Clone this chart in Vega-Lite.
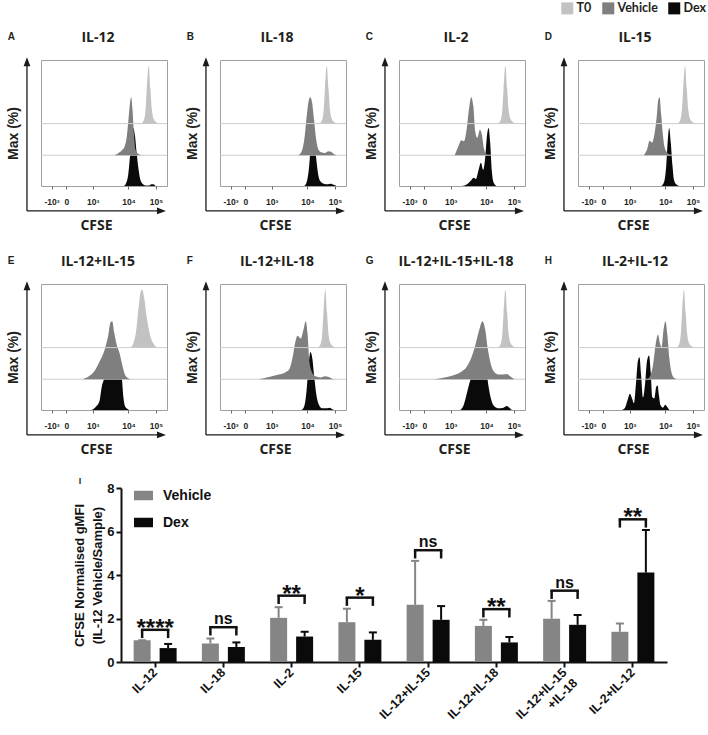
{
"$schema": "https://vega.github.io/schema/vega-lite/v6.json",
"padding": {"left": 5, "top": 2, "right": 2, "bottom": 2},
"datasets": {
"A": [{"s":"T0","c":814,"v":0},{"s":"T0","c":834,"v":5},{"s":"T0","c":848,"v":20},{"s":"T0","c":860,"v":60},{"s":"T0","c":875,"v":100},{"s":"T0","c":889,"v":60},{"s":"T0","c":902,"v":22},{"s":"T0","c":918,"v":7},{"s":"T0","c":940,"v":2},{"s":"T0","c":965,"v":0},
{"s":"Vehicle","c":598,"v":0},{"s":"Vehicle","c":631,"v":4},{"s":"Vehicle","c":659,"v":9},{"s":"Vehicle","c":681,"v":16},{"s":"Vehicle","c":697,"v":32},{"s":"Vehicle","c":711,"v":62},{"s":"Vehicle","c":722,"v":88},{"s":"Vehicle","c":733,"v":100},{"s":"Vehicle","c":744,"v":78},{"s":"Vehicle","c":756,"v":35},{"s":"Vehicle","c":769,"v":9},{"s":"Vehicle","c":792,"v":2},{"s":"Vehicle","c":814,"v":0},
{"s":"Dex","c":675,"v":0},{"s":"Dex","c":692,"v":5},{"s":"Dex","c":709,"v":20},{"s":"Dex","c":725,"v":55},{"s":"Dex","c":739,"v":90},{"s":"Dex","c":750,"v":100},{"s":"Dex","c":764,"v":86},{"s":"Dex","c":778,"v":56},{"s":"Dex","c":792,"v":30},{"s":"Dex","c":805,"v":13},{"s":"Dex","c":825,"v":4},{"s":"Dex","c":852,"v":1},{"s":"Dex","c":880,"v":1},{"s":"Dex","c":897,"v":3},{"s":"Dex","c":913,"v":3},{"s":"Dex","c":930,"v":0}],
"B": [{"s":"T0","c":807,"v":0},{"s":"T0","c":827,"v":5},{"s":"T0","c":841,"v":20},{"s":"T0","c":853,"v":60},{"s":"T0","c":868,"v":100},{"s":"T0","c":882,"v":60},{"s":"T0","c":895,"v":22},{"s":"T0","c":911,"v":7},{"s":"T0","c":933,"v":2},{"s":"T0","c":958,"v":0},
{"s":"Vehicle","c":639,"v":0},{"s":"Vehicle","c":666,"v":8},{"s":"Vehicle","c":687,"v":30},{"s":"Vehicle","c":706,"v":70},{"s":"Vehicle","c":722,"v":95},{"s":"Vehicle","c":733,"v":100},{"s":"Vehicle","c":749,"v":90},{"s":"Vehicle","c":765,"v":60},{"s":"Vehicle","c":781,"v":28},{"s":"Vehicle","c":800,"v":10},{"s":"Vehicle","c":822,"v":5},{"s":"Vehicle","c":854,"v":4},{"s":"Vehicle","c":881,"v":7},{"s":"Vehicle","c":903,"v":6},{"s":"Vehicle","c":924,"v":2},{"s":"Vehicle","c":946,"v":0},
{"s":"Dex","c":687,"v":0},{"s":"Dex","c":706,"v":8},{"s":"Dex","c":725,"v":35},{"s":"Dex","c":741,"v":80},{"s":"Dex","c":755,"v":100},{"s":"Dex","c":768,"v":85},{"s":"Dex","c":781,"v":50},{"s":"Dex","c":798,"v":20},{"s":"Dex","c":816,"v":8},{"s":"Dex","c":843,"v":4},{"s":"Dex","c":876,"v":3},{"s":"Dex","c":900,"v":4},{"s":"Dex","c":924,"v":2},{"s":"Dex","c":946,"v":0}],
"C": [{"s":"T0","c":804,"v":0},{"s":"T0","c":824,"v":5},{"s":"T0","c":838,"v":20},{"s":"T0","c":850,"v":60},{"s":"T0","c":865,"v":100},{"s":"T0","c":879,"v":60},{"s":"T0","c":892,"v":22},{"s":"T0","c":908,"v":7},{"s":"T0","c":930,"v":2},{"s":"T0","c":955,"v":0},
{"s":"Vehicle","c":453,"v":0},{"s":"Vehicle","c":480,"v":14},{"s":"Vehicle","c":507,"v":26},{"s":"Vehicle","c":528,"v":24},{"s":"Vehicle","c":550,"v":45},{"s":"Vehicle","c":569,"v":80},{"s":"Vehicle","c":587,"v":100},{"s":"Vehicle","c":604,"v":85},{"s":"Vehicle","c":620,"v":40},{"s":"Vehicle","c":636,"v":30},{"s":"Vehicle","c":658,"v":44},{"s":"Vehicle","c":674,"v":35},{"s":"Vehicle","c":690,"v":12},{"s":"Vehicle","c":706,"v":3},{"s":"Vehicle","c":728,"v":0},
{"s":"Dex","c":512,"v":0},{"s":"Dex","c":552,"v":3},{"s":"Dex","c":587,"v":10},{"s":"Dex","c":606,"v":14},{"s":"Dex","c":625,"v":12},{"s":"Dex","c":647,"v":28},{"s":"Dex","c":666,"v":40},{"s":"Dex","c":684,"v":28},{"s":"Dex","c":701,"v":50},{"s":"Dex","c":714,"v":85},{"s":"Dex","c":728,"v":100},{"s":"Dex","c":741,"v":75},{"s":"Dex","c":755,"v":25},{"s":"Dex","c":771,"v":5},{"s":"Dex","c":792,"v":0}],
"D": [{"s":"T0","c":809,"v":0},{"s":"T0","c":829,"v":5},{"s":"T0","c":843,"v":20},{"s":"T0","c":855,"v":60},{"s":"T0","c":870,"v":100},{"s":"T0","c":884,"v":60},{"s":"T0","c":897,"v":22},{"s":"T0","c":913,"v":7},{"s":"T0","c":935,"v":2},{"s":"T0","c":960,"v":0},
{"s":"Vehicle","c":534,"v":0},{"s":"Vehicle","c":561,"v":10},{"s":"Vehicle","c":582,"v":25},{"s":"Vehicle","c":601,"v":22},{"s":"Vehicle","c":620,"v":35},{"s":"Vehicle","c":639,"v":65},{"s":"Vehicle","c":652,"v":95},{"s":"Vehicle","c":663,"v":100},{"s":"Vehicle","c":676,"v":70},{"s":"Vehicle","c":690,"v":35},{"s":"Vehicle","c":706,"v":12},{"s":"Vehicle","c":728,"v":4},{"s":"Vehicle","c":754,"v":1},{"s":"Vehicle","c":776,"v":0},
{"s":"Dex","c":679,"v":0},{"s":"Dex","c":701,"v":8},{"s":"Dex","c":717,"v":35},{"s":"Dex","c":730,"v":80},{"s":"Dex","c":741,"v":100},{"s":"Dex","c":754,"v":75},{"s":"Dex","c":768,"v":35},{"s":"Dex","c":781,"v":10},{"s":"Dex","c":803,"v":2},{"s":"Dex","c":822,"v":0}],
"E": [{"s":"T0","c":725,"v":0},{"s":"T0","c":752,"v":8},{"s":"T0","c":774,"v":30},{"s":"T0","c":796,"v":75},{"s":"T0","c":809,"v":95},{"s":"T0","c":823,"v":100},{"s":"T0","c":839,"v":85},{"s":"T0","c":861,"v":50},{"s":"T0","c":888,"v":20},{"s":"T0","c":916,"v":6},{"s":"T0","c":943,"v":0},
{"s":"Vehicle","c":340,"v":0},{"s":"Vehicle","c":389,"v":5},{"s":"Vehicle","c":435,"v":14},{"s":"Vehicle","c":475,"v":30},{"s":"Vehicle","c":516,"v":50},{"s":"Vehicle","c":546,"v":75},{"s":"Vehicle","c":565,"v":98},{"s":"Vehicle","c":579,"v":100},{"s":"Vehicle","c":595,"v":80},{"s":"Vehicle","c":617,"v":58},{"s":"Vehicle","c":638,"v":45},{"s":"Vehicle","c":660,"v":25},{"s":"Vehicle","c":682,"v":8},{"s":"Vehicle","c":706,"v":2},{"s":"Vehicle","c":725,"v":0},
{"s":"Dex","c":410,"v":0},{"s":"Dex","c":448,"v":6},{"s":"Dex","c":475,"v":15},{"s":"Dex","c":494,"v":40},{"s":"Dex","c":516,"v":55},{"s":"Dex","c":535,"v":65},{"s":"Dex","c":557,"v":85},{"s":"Dex","c":573,"v":100},{"s":"Dex","c":590,"v":88},{"s":"Dex","c":606,"v":72},{"s":"Dex","c":625,"v":65},{"s":"Dex","c":641,"v":78},{"s":"Dex","c":657,"v":55},{"s":"Dex","c":671,"v":20},{"s":"Dex","c":687,"v":5},{"s":"Dex","c":709,"v":1},{"s":"Dex","c":725,"v":0}],
"F": [{"s":"T0","c":795,"v":0},{"s":"T0","c":815,"v":5},{"s":"T0","c":829,"v":20},{"s":"T0","c":841,"v":60},{"s":"T0","c":856,"v":100},{"s":"T0","c":870,"v":60},{"s":"T0","c":883,"v":22},{"s":"T0","c":899,"v":7},{"s":"T0","c":921,"v":2},{"s":"T0","c":946,"v":0},
{"s":"Vehicle","c":316,"v":0},{"s":"Vehicle","c":397,"v":4},{"s":"Vehicle","c":478,"v":8},{"s":"Vehicle","c":532,"v":12},{"s":"Vehicle","c":565,"v":18},{"s":"Vehicle","c":592,"v":40},{"s":"Vehicle","c":613,"v":65},{"s":"Vehicle","c":630,"v":75},{"s":"Vehicle","c":657,"v":70},{"s":"Vehicle","c":678,"v":85},{"s":"Vehicle","c":697,"v":100},{"s":"Vehicle","c":711,"v":80},{"s":"Vehicle","c":727,"v":30},{"s":"Vehicle","c":748,"v":12},{"s":"Vehicle","c":775,"v":5},{"s":"Vehicle","c":816,"v":3},{"s":"Vehicle","c":856,"v":5},{"s":"Vehicle","c":883,"v":4},{"s":"Vehicle","c":911,"v":1},{"s":"Vehicle","c":932,"v":0},
{"s":"Dex","c":662,"v":0},{"s":"Dex","c":684,"v":6},{"s":"Dex","c":702,"v":30},{"s":"Dex","c":719,"v":75},{"s":"Dex","c":735,"v":100},{"s":"Dex","c":751,"v":88},{"s":"Dex","c":767,"v":55},{"s":"Dex","c":784,"v":25},{"s":"Dex","c":802,"v":10},{"s":"Dex","c":829,"v":3},{"s":"Dex","c":870,"v":3},{"s":"Dex","c":892,"v":4},{"s":"Dex","c":916,"v":1},{"s":"Dex","c":938,"v":0}],
"G": [{"s":"T0","c":804,"v":0},{"s":"T0","c":824,"v":5},{"s":"T0","c":838,"v":20},{"s":"T0","c":850,"v":60},{"s":"T0","c":865,"v":100},{"s":"T0","c":879,"v":60},{"s":"T0","c":892,"v":22},{"s":"T0","c":908,"v":7},{"s":"T0","c":930,"v":2},{"s":"T0","c":955,"v":0},
{"s":"Vehicle","c":283,"v":0},{"s":"Vehicle","c":350,"v":2},{"s":"Vehicle","c":431,"v":6},{"s":"Vehicle","c":499,"v":12},{"s":"Vehicle","c":552,"v":22},{"s":"Vehicle","c":593,"v":40},{"s":"Vehicle","c":628,"v":65},{"s":"Vehicle","c":652,"v":85},{"s":"Vehicle","c":679,"v":100},{"s":"Vehicle","c":701,"v":85},{"s":"Vehicle","c":722,"v":52},{"s":"Vehicle","c":744,"v":28},{"s":"Vehicle","c":768,"v":14},{"s":"Vehicle","c":808,"v":8},{"s":"Vehicle","c":849,"v":8},{"s":"Vehicle","c":876,"v":9},{"s":"Vehicle","c":903,"v":5},{"s":"Vehicle","c":938,"v":0},
{"s":"Dex","c":499,"v":0},{"s":"Dex","c":525,"v":8},{"s":"Dex","c":547,"v":25},{"s":"Dex","c":571,"v":45},{"s":"Dex","c":593,"v":62},{"s":"Dex","c":612,"v":85},{"s":"Dex","c":630,"v":98},{"s":"Dex","c":652,"v":86},{"s":"Dex","c":671,"v":92},{"s":"Dex","c":690,"v":95},{"s":"Dex","c":709,"v":70},{"s":"Dex","c":728,"v":40},{"s":"Dex","c":749,"v":18},{"s":"Dex","c":776,"v":6},{"s":"Dex","c":808,"v":3},{"s":"Dex","c":849,"v":4},{"s":"Dex","c":876,"v":7},{"s":"Dex","c":897,"v":4},{"s":"Dex","c":916,"v":0}],
"H": [{"s":"T0","c":800,"v":0},{"s":"T0","c":820,"v":5},{"s":"T0","c":834,"v":20},{"s":"T0","c":846,"v":60},{"s":"T0","c":861,"v":100},{"s":"T0","c":875,"v":60},{"s":"T0","c":888,"v":22},{"s":"T0","c":904,"v":7},{"s":"T0","c":926,"v":2},{"s":"T0","c":951,"v":0},
{"s":"Vehicle","c":561,"v":0},{"s":"Vehicle","c":588,"v":6},{"s":"Vehicle","c":610,"v":25},{"s":"Vehicle","c":631,"v":60},{"s":"Vehicle","c":650,"v":77},{"s":"Vehicle","c":666,"v":62},{"s":"Vehicle","c":679,"v":55},{"s":"Vehicle","c":695,"v":85},{"s":"Vehicle","c":711,"v":100},{"s":"Vehicle","c":727,"v":75},{"s":"Vehicle","c":743,"v":35},{"s":"Vehicle","c":762,"v":10},{"s":"Vehicle","c":783,"v":2},{"s":"Vehicle","c":802,"v":0},
{"s":"Dex","c":356,"v":0},{"s":"Dex","c":382,"v":4},{"s":"Dex","c":404,"v":18},{"s":"Dex","c":422,"v":28},{"s":"Dex","c":439,"v":20},{"s":"Dex","c":455,"v":12},{"s":"Dex","c":471,"v":45},{"s":"Dex","c":487,"v":85},{"s":"Dex","c":500,"v":91},{"s":"Dex","c":513,"v":60},{"s":"Dex","c":529,"v":22},{"s":"Dex","c":545,"v":45},{"s":"Dex","c":561,"v":85},{"s":"Dex","c":578,"v":94},{"s":"Dex","c":591,"v":65},{"s":"Dex","c":604,"v":22},{"s":"Dex","c":620,"v":20},{"s":"Dex","c":636,"v":40},{"s":"Dex","c":647,"v":42},{"s":"Dex","c":658,"v":25},{"s":"Dex","c":671,"v":8},{"s":"Dex","c":690,"v":4},{"s":"Dex","c":709,"v":9},{"s":"Dex","c":725,"v":5},{"s":"Dex","c":743,"v":0}],
"bars": [{"c":"IL-12","s":"Vehicle","m":1.0,"hi":1.0},{"c":"IL-12","s":"Dex","m":0.64,"hi":0.83},{"c":"IL-18","s":"Vehicle","m":0.85,"hi":1.08},{"c":"IL-18","s":"Dex","m":0.69,"hi":0.9},{"c":"IL-2","s":"Vehicle","m":2.03,"hi":2.52},{"c":"IL-2","s":"Dex","m":1.17,"hi":1.39},{"c":"IL-15","s":"Vehicle","m":1.83,"hi":2.45},{"c":"IL-15","s":"Dex","m":1.02,"hi":1.36},{"c":"IL-12+IL-15","s":"Vehicle","m":2.63,"hi":4.65},{"c":"IL-12+IL-15","s":"Dex","m":1.94,"hi":2.57},{"c":"IL-12+IL-18","s":"Vehicle","m":1.66,"hi":1.94},{"c":"IL-12+IL-18","s":"Dex","m":0.9,"hi":1.15},{"c":"IL-12+IL-15+IL-18","s":"Vehicle","m":1.99,"hi":2.81},{"c":"IL-12+IL-15+IL-18","s":"Dex","m":1.71,"hi":2.16},{"c":"IL-2+IL-12","s":"Vehicle","m":1.39,"hi":1.77},{"c":"IL-2+IL-12","s":"Dex","m":4.11,"hi":6.07}],
"br": [{"c":"IL-12","t":1.48,"b":1.1,"lab":"****"},{"c":"IL-18","t":1.6,"b":1.22,"lab":"ns"},{"c":"IL-2","t":3.05,"b":2.67,"lab":"**"},{"c":"IL-15","t":2.96,"b":2.58,"lab":"*"},{"c":"IL-12+IL-15","t":5.14,"b":4.76,"lab":"ns"},{"c":"IL-12+IL-18","t":2.43,"b":2.05,"lab":"**"},{"c":"IL-12+IL-15+IL-18","t":3.28,"b":2.9,"lab":"ns"},{"c":"IL-2+IL-12","t":6.56,"b":6.18,"lab":"**"}]
},
"vconcat": [
{"concat": [
{"width":126,"height":126,"title":{"text":"IL-12","dx":-6,"offset":-13},"data":{"name":"A"},"layer":[
{"layer":[{"transform":[{"filter":"datum.s=='Dex'"}],"mark":{"type":"area","interpolate":"monotone"},"encoding":{"x":{"field":"c","type":"quantitative","scale":{"domain":[0,1024],"nice":false,"zero":false},"axis":{"title":"CFSE","values":[86,206,420,711,935],"tickCount":5,"labelExpr":"datum.value == 86 ? '-10³' : datum.value == 206 ? '0' : datum.value == 420 ? '10³' : datum.value == 711 ? '10⁴' : '10⁵'","domain":false,"tickSize":3,"tickColor":"#666666","labelFontSize":8.5,"labelFontWeight":"bold","labelPadding":8,"labelBaseline":"top","labelFlush":false,"labelOverlap":false,"labelSeparation":-40,"titleFont":"Open Sans","titleFontSize":14,"titleFontWeight":"bold","titleX":55,"titleY":39,"titleBaseline":"middle","titleAlign":"center"}},"y":{"field":"v","type":"quantitative","stack":null,"scale":{"domain":[0,217],"nice":false,"zero":false},"axis":{"orient":"left","title":"Max (%)","domain":false,"ticks":false,"labels":false,"titleFontSize":14,"titleFontWeight":"bold","titleX":-28,"titleY":73,"titleAngle":-90,"titleAlign":"center","titleBaseline":"middle"}},"y2":{"datum":0},"color":{"field":"s","type":"nominal","scale":{"domain":["T0","Vehicle","Dex"],"range":["#c2c2c2","#7f7f7f","#0a0a0a"]},"legend":{"orient":"none","legendX":520,"legendY":-58,"title":null,"direction":"horizontal","columns":3,"symbolType":"square","symbolSize":144,"symbolStrokeWidth":0,"labelFont":"Lato","labelFontSize":12.5,"labelFontWeight":"bold","labelColor":"#231f20","labelOffset":3,"columnPadding":10,"padding":0}}}},
{"data":{"values":[{}]},"mark":{"type":"rule","color":"#1a1a1a","strokeWidth":1.3},"encoding":{"x":{"datum":-114,"type":"quantitative","scale":{"domain":[0,1024],"nice":false,"zero":false}},"y":{"datum":-43,"type":"quantitative","scale":{"domain":[0,217],"nice":false,"zero":false}},"y2":{"datum":212}}},
{"data":{"values":[{}]},"mark":{"type":"rule","color":"#1a1a1a","strokeWidth":1.3},"encoding":{"x":{"datum":-114,"type":"quantitative","scale":{"domain":[0,1024],"nice":false,"zero":false}},"x2":{"datum":985},"y":{"datum":-43,"type":"quantitative","scale":{"domain":[0,217],"nice":false,"zero":false}}}},
{"data":{"values":[{}]},"mark":{"type":"point","shape":"M0,-1L0.75,1L-0.75,1Z","size":81,"filled":true,"color":"#1a1a1a","opacity":1,"strokeWidth":0},"encoding":{"x":{"datum":-114,"type":"quantitative","scale":{"domain":[0,1024],"nice":false,"zero":false}},"y":{"datum":214,"type":"quantitative","scale":{"domain":[0,217],"nice":false,"zero":false}}}},
{"data":{"values":[{}]},"mark":{"type":"point","shape":"M1,0L-1,-0.75L-1,0.75Z","size":81,"filled":true,"color":"#1a1a1a","opacity":1,"strokeWidth":0},"encoding":{"x":{"datum":979,"type":"quantitative","scale":{"domain":[0,1024],"nice":false,"zero":false}},"y":{"datum":-43,"type":"quantitative","scale":{"domain":[0,217],"nice":false,"zero":false}}}},
{"data":{"values":[{}]},"mark":{"type":"text","text":"A","align":"left","baseline":"middle","fontSize":10,"fontWeight":"bold","color":"#231f20"},"encoding":{"x":{"datum":-271,"type":"quantitative","scale":{"domain":[0,1024],"nice":false,"zero":false}},"y":{"datum":256,"type":"quantitative","scale":{"domain":[0,217],"nice":false,"zero":false}}}}]},
{"layer":[{"data":{"values":[{}]},"mark":{"type":"rule","color":"#cccccc","strokeWidth":1},"encoding":{"y":{"datum":0,"type":"quantitative","scale":{"domain":[-53,164],"nice":false,"zero":false},"axis":null}}},
{"transform":[{"filter":"datum.s=='Vehicle'"}],"mark":{"type":"area","interpolate":"monotone"},"encoding":{"x":{"field":"c","type":"quantitative","scale":{"domain":[0,1024],"nice":false,"zero":false}},"y":{"field":"v","type":"quantitative","stack":null,"scale":{"domain":[-53,164],"nice":false,"zero":false},"axis":null},"y2":{"datum":0},"color":{"field":"s","type":"nominal","scale":{"domain":["T0","Vehicle","Dex"],"range":["#c2c2c2","#7f7f7f","#0a0a0a"]}}}}]},
{"layer":[{"data":{"values":[{}]},"mark":{"type":"rule","color":"#cccccc","strokeWidth":1},"encoding":{"y":{"datum":0,"type":"quantitative","scale":{"domain":[-107.5,109.5],"nice":false,"zero":false},"axis":null}}},
{"transform":[{"filter":"datum.s=='T0'"}],"mark":{"type":"area","interpolate":"monotone"},"encoding":{"x":{"field":"c","type":"quantitative","scale":{"domain":[0,1024],"nice":false,"zero":false}},"y":{"field":"v","type":"quantitative","stack":null,"scale":{"domain":[-107.5,109.5],"nice":false,"zero":false},"axis":null},"y2":{"datum":0},"color":{"field":"s","type":"nominal","scale":{"domain":["T0","Vehicle","Dex"],"range":["#c2c2c2","#7f7f7f","#0a0a0a"]}}}}]}
],"resolve":{"scale":{"y":"independent"}}},

{"width":126,"height":126,"title":{"text":"IL-18","dx":-6,"offset":-13},"data":{"name":"B"},"layer":[
{"layer":[{"transform":[{"filter":"datum.s=='Dex'"}],"mark":{"type":"area","interpolate":"monotone"},"encoding":{"x":{"field":"c","type":"quantitative","scale":{"domain":[0,1024],"nice":false,"zero":false},"axis":{"title":"CFSE","values":[86,206,420,711,935],"tickCount":5,"labelExpr":"datum.value == 86 ? '-10³' : datum.value == 206 ? '0' : datum.value == 420 ? '10³' : datum.value == 711 ? '10⁴' : '10⁵'","domain":false,"tickSize":3,"tickColor":"#666666","labelFontSize":8.5,"labelFontWeight":"bold","labelPadding":8,"labelBaseline":"top","labelFlush":false,"labelOverlap":false,"labelSeparation":-40,"titleFont":"Open Sans","titleFontSize":14,"titleFontWeight":"bold","titleX":55,"titleY":39,"titleBaseline":"middle","titleAlign":"center"}},"y":{"field":"v","type":"quantitative","stack":null,"scale":{"domain":[0,217],"nice":false,"zero":false},"axis":{"orient":"left","title":"Max (%)","domain":false,"ticks":false,"labels":false,"titleFontSize":14,"titleFontWeight":"bold","titleX":-28,"titleY":73,"titleAngle":-90,"titleAlign":"center","titleBaseline":"middle"}},"y2":{"datum":0},"color":{"field":"s","type":"nominal","scale":{"domain":["T0","Vehicle","Dex"],"range":["#c2c2c2","#7f7f7f","#0a0a0a"]}}}},
{"data":{"values":[{}]},"mark":{"type":"rule","color":"#1a1a1a","strokeWidth":1.3},"encoding":{"x":{"datum":-114,"type":"quantitative","scale":{"domain":[0,1024],"nice":false,"zero":false}},"y":{"datum":-43,"type":"quantitative","scale":{"domain":[0,217],"nice":false,"zero":false}},"y2":{"datum":212}}},
{"data":{"values":[{}]},"mark":{"type":"rule","color":"#1a1a1a","strokeWidth":1.3},"encoding":{"x":{"datum":-114,"type":"quantitative","scale":{"domain":[0,1024],"nice":false,"zero":false}},"x2":{"datum":985},"y":{"datum":-43,"type":"quantitative","scale":{"domain":[0,217],"nice":false,"zero":false}}}},
{"data":{"values":[{}]},"mark":{"type":"point","shape":"M0,-1L0.75,1L-0.75,1Z","size":81,"filled":true,"color":"#1a1a1a","opacity":1,"strokeWidth":0},"encoding":{"x":{"datum":-114,"type":"quantitative","scale":{"domain":[0,1024],"nice":false,"zero":false}},"y":{"datum":214,"type":"quantitative","scale":{"domain":[0,217],"nice":false,"zero":false}}}},
{"data":{"values":[{}]},"mark":{"type":"point","shape":"M1,0L-1,-0.75L-1,0.75Z","size":81,"filled":true,"color":"#1a1a1a","opacity":1,"strokeWidth":0},"encoding":{"x":{"datum":979,"type":"quantitative","scale":{"domain":[0,1024],"nice":false,"zero":false}},"y":{"datum":-43,"type":"quantitative","scale":{"domain":[0,217],"nice":false,"zero":false}}}},
{"data":{"values":[{}]},"mark":{"type":"text","text":"B","align":"left","baseline":"middle","fontSize":10,"fontWeight":"bold","color":"#231f20"},"encoding":{"x":{"datum":-271,"type":"quantitative","scale":{"domain":[0,1024],"nice":false,"zero":false}},"y":{"datum":256,"type":"quantitative","scale":{"domain":[0,217],"nice":false,"zero":false}}}}]},
{"layer":[{"data":{"values":[{}]},"mark":{"type":"rule","color":"#cccccc","strokeWidth":1},"encoding":{"y":{"datum":0,"type":"quantitative","scale":{"domain":[-53,164],"nice":false,"zero":false},"axis":null}}},
{"transform":[{"filter":"datum.s=='Vehicle'"}],"mark":{"type":"area","interpolate":"monotone"},"encoding":{"x":{"field":"c","type":"quantitative","scale":{"domain":[0,1024],"nice":false,"zero":false}},"y":{"field":"v","type":"quantitative","stack":null,"scale":{"domain":[-53,164],"nice":false,"zero":false},"axis":null},"y2":{"datum":0},"color":{"field":"s","type":"nominal","scale":{"domain":["T0","Vehicle","Dex"],"range":["#c2c2c2","#7f7f7f","#0a0a0a"]}}}}]},
{"layer":[{"data":{"values":[{}]},"mark":{"type":"rule","color":"#cccccc","strokeWidth":1},"encoding":{"y":{"datum":0,"type":"quantitative","scale":{"domain":[-107.5,109.5],"nice":false,"zero":false},"axis":null}}},
{"transform":[{"filter":"datum.s=='T0'"}],"mark":{"type":"area","interpolate":"monotone"},"encoding":{"x":{"field":"c","type":"quantitative","scale":{"domain":[0,1024],"nice":false,"zero":false}},"y":{"field":"v","type":"quantitative","stack":null,"scale":{"domain":[-107.5,109.5],"nice":false,"zero":false},"axis":null},"y2":{"datum":0},"color":{"field":"s","type":"nominal","scale":{"domain":["T0","Vehicle","Dex"],"range":["#c2c2c2","#7f7f7f","#0a0a0a"]}}}}]}
],"resolve":{"scale":{"y":"independent"}}},

{"width":126,"height":126,"title":{"text":"IL-2","dx":-6,"offset":-13},"data":{"name":"C"},"layer":[
{"layer":[{"transform":[{"filter":"datum.s=='Dex'"}],"mark":{"type":"area","interpolate":"monotone"},"encoding":{"x":{"field":"c","type":"quantitative","scale":{"domain":[0,1024],"nice":false,"zero":false},"axis":{"title":"CFSE","values":[86,206,420,711,935],"tickCount":5,"labelExpr":"datum.value == 86 ? '-10³' : datum.value == 206 ? '0' : datum.value == 420 ? '10³' : datum.value == 711 ? '10⁴' : '10⁵'","domain":false,"tickSize":3,"tickColor":"#666666","labelFontSize":8.5,"labelFontWeight":"bold","labelPadding":8,"labelBaseline":"top","labelFlush":false,"labelOverlap":false,"labelSeparation":-40,"titleFont":"Open Sans","titleFontSize":14,"titleFontWeight":"bold","titleX":55,"titleY":39,"titleBaseline":"middle","titleAlign":"center"}},"y":{"field":"v","type":"quantitative","stack":null,"scale":{"domain":[0,217],"nice":false,"zero":false},"axis":{"orient":"left","title":"Max (%)","domain":false,"ticks":false,"labels":false,"titleFontSize":14,"titleFontWeight":"bold","titleX":-28,"titleY":73,"titleAngle":-90,"titleAlign":"center","titleBaseline":"middle"}},"y2":{"datum":0},"color":{"field":"s","type":"nominal","scale":{"domain":["T0","Vehicle","Dex"],"range":["#c2c2c2","#7f7f7f","#0a0a0a"]}}}},
{"data":{"values":[{}]},"mark":{"type":"rule","color":"#1a1a1a","strokeWidth":1.3},"encoding":{"x":{"datum":-114,"type":"quantitative","scale":{"domain":[0,1024],"nice":false,"zero":false}},"y":{"datum":-43,"type":"quantitative","scale":{"domain":[0,217],"nice":false,"zero":false}},"y2":{"datum":212}}},
{"data":{"values":[{}]},"mark":{"type":"rule","color":"#1a1a1a","strokeWidth":1.3},"encoding":{"x":{"datum":-114,"type":"quantitative","scale":{"domain":[0,1024],"nice":false,"zero":false}},"x2":{"datum":985},"y":{"datum":-43,"type":"quantitative","scale":{"domain":[0,217],"nice":false,"zero":false}}}},
{"data":{"values":[{}]},"mark":{"type":"point","shape":"M0,-1L0.75,1L-0.75,1Z","size":81,"filled":true,"color":"#1a1a1a","opacity":1,"strokeWidth":0},"encoding":{"x":{"datum":-114,"type":"quantitative","scale":{"domain":[0,1024],"nice":false,"zero":false}},"y":{"datum":214,"type":"quantitative","scale":{"domain":[0,217],"nice":false,"zero":false}}}},
{"data":{"values":[{}]},"mark":{"type":"point","shape":"M1,0L-1,-0.75L-1,0.75Z","size":81,"filled":true,"color":"#1a1a1a","opacity":1,"strokeWidth":0},"encoding":{"x":{"datum":979,"type":"quantitative","scale":{"domain":[0,1024],"nice":false,"zero":false}},"y":{"datum":-43,"type":"quantitative","scale":{"domain":[0,217],"nice":false,"zero":false}}}},
{"data":{"values":[{}]},"mark":{"type":"text","text":"C","align":"left","baseline":"middle","fontSize":10,"fontWeight":"bold","color":"#231f20"},"encoding":{"x":{"datum":-271,"type":"quantitative","scale":{"domain":[0,1024],"nice":false,"zero":false}},"y":{"datum":256,"type":"quantitative","scale":{"domain":[0,217],"nice":false,"zero":false}}}}]},
{"layer":[{"data":{"values":[{}]},"mark":{"type":"rule","color":"#cccccc","strokeWidth":1},"encoding":{"y":{"datum":0,"type":"quantitative","scale":{"domain":[-53,164],"nice":false,"zero":false},"axis":null}}},
{"transform":[{"filter":"datum.s=='Vehicle'"}],"mark":{"type":"area","interpolate":"monotone"},"encoding":{"x":{"field":"c","type":"quantitative","scale":{"domain":[0,1024],"nice":false,"zero":false}},"y":{"field":"v","type":"quantitative","stack":null,"scale":{"domain":[-53,164],"nice":false,"zero":false},"axis":null},"y2":{"datum":0},"color":{"field":"s","type":"nominal","scale":{"domain":["T0","Vehicle","Dex"],"range":["#c2c2c2","#7f7f7f","#0a0a0a"]}}}}]},
{"layer":[{"data":{"values":[{}]},"mark":{"type":"rule","color":"#cccccc","strokeWidth":1},"encoding":{"y":{"datum":0,"type":"quantitative","scale":{"domain":[-107.5,109.5],"nice":false,"zero":false},"axis":null}}},
{"transform":[{"filter":"datum.s=='T0'"}],"mark":{"type":"area","interpolate":"monotone"},"encoding":{"x":{"field":"c","type":"quantitative","scale":{"domain":[0,1024],"nice":false,"zero":false}},"y":{"field":"v","type":"quantitative","stack":null,"scale":{"domain":[-107.5,109.5],"nice":false,"zero":false},"axis":null},"y2":{"datum":0},"color":{"field":"s","type":"nominal","scale":{"domain":["T0","Vehicle","Dex"],"range":["#c2c2c2","#7f7f7f","#0a0a0a"]}}}}]}
],"resolve":{"scale":{"y":"independent"}}},

{"width":126,"height":126,"title":{"text":"IL-15","dx":-6,"offset":-13},"data":{"name":"D"},"layer":[
{"layer":[{"transform":[{"filter":"datum.s=='Dex'"}],"mark":{"type":"area","interpolate":"monotone"},"encoding":{"x":{"field":"c","type":"quantitative","scale":{"domain":[0,1024],"nice":false,"zero":false},"axis":{"title":"CFSE","values":[86,206,420,711,935],"tickCount":5,"labelExpr":"datum.value == 86 ? '-10³' : datum.value == 206 ? '0' : datum.value == 420 ? '10³' : datum.value == 711 ? '10⁴' : '10⁵'","domain":false,"tickSize":3,"tickColor":"#666666","labelFontSize":8.5,"labelFontWeight":"bold","labelPadding":8,"labelBaseline":"top","labelFlush":false,"labelOverlap":false,"labelSeparation":-40,"titleFont":"Open Sans","titleFontSize":14,"titleFontWeight":"bold","titleX":55,"titleY":39,"titleBaseline":"middle","titleAlign":"center"}},"y":{"field":"v","type":"quantitative","stack":null,"scale":{"domain":[0,217],"nice":false,"zero":false},"axis":{"orient":"left","title":"Max (%)","domain":false,"ticks":false,"labels":false,"titleFontSize":14,"titleFontWeight":"bold","titleX":-28,"titleY":73,"titleAngle":-90,"titleAlign":"center","titleBaseline":"middle"}},"y2":{"datum":0},"color":{"field":"s","type":"nominal","scale":{"domain":["T0","Vehicle","Dex"],"range":["#c2c2c2","#7f7f7f","#0a0a0a"]}}}},
{"data":{"values":[{}]},"mark":{"type":"rule","color":"#1a1a1a","strokeWidth":1.3},"encoding":{"x":{"datum":-114,"type":"quantitative","scale":{"domain":[0,1024],"nice":false,"zero":false}},"y":{"datum":-43,"type":"quantitative","scale":{"domain":[0,217],"nice":false,"zero":false}},"y2":{"datum":212}}},
{"data":{"values":[{}]},"mark":{"type":"rule","color":"#1a1a1a","strokeWidth":1.3},"encoding":{"x":{"datum":-114,"type":"quantitative","scale":{"domain":[0,1024],"nice":false,"zero":false}},"x2":{"datum":985},"y":{"datum":-43,"type":"quantitative","scale":{"domain":[0,217],"nice":false,"zero":false}}}},
{"data":{"values":[{}]},"mark":{"type":"point","shape":"M0,-1L0.75,1L-0.75,1Z","size":81,"filled":true,"color":"#1a1a1a","opacity":1,"strokeWidth":0},"encoding":{"x":{"datum":-114,"type":"quantitative","scale":{"domain":[0,1024],"nice":false,"zero":false}},"y":{"datum":214,"type":"quantitative","scale":{"domain":[0,217],"nice":false,"zero":false}}}},
{"data":{"values":[{}]},"mark":{"type":"point","shape":"M1,0L-1,-0.75L-1,0.75Z","size":81,"filled":true,"color":"#1a1a1a","opacity":1,"strokeWidth":0},"encoding":{"x":{"datum":979,"type":"quantitative","scale":{"domain":[0,1024],"nice":false,"zero":false}},"y":{"datum":-43,"type":"quantitative","scale":{"domain":[0,217],"nice":false,"zero":false}}}},
{"data":{"values":[{}]},"mark":{"type":"text","text":"D","align":"left","baseline":"middle","fontSize":10,"fontWeight":"bold","color":"#231f20"},"encoding":{"x":{"datum":-271,"type":"quantitative","scale":{"domain":[0,1024],"nice":false,"zero":false}},"y":{"datum":256,"type":"quantitative","scale":{"domain":[0,217],"nice":false,"zero":false}}}}]},
{"layer":[{"data":{"values":[{}]},"mark":{"type":"rule","color":"#cccccc","strokeWidth":1},"encoding":{"y":{"datum":0,"type":"quantitative","scale":{"domain":[-53,164],"nice":false,"zero":false},"axis":null}}},
{"transform":[{"filter":"datum.s=='Vehicle'"}],"mark":{"type":"area","interpolate":"monotone"},"encoding":{"x":{"field":"c","type":"quantitative","scale":{"domain":[0,1024],"nice":false,"zero":false}},"y":{"field":"v","type":"quantitative","stack":null,"scale":{"domain":[-53,164],"nice":false,"zero":false},"axis":null},"y2":{"datum":0},"color":{"field":"s","type":"nominal","scale":{"domain":["T0","Vehicle","Dex"],"range":["#c2c2c2","#7f7f7f","#0a0a0a"]}}}}]},
{"layer":[{"data":{"values":[{}]},"mark":{"type":"rule","color":"#cccccc","strokeWidth":1},"encoding":{"y":{"datum":0,"type":"quantitative","scale":{"domain":[-107.5,109.5],"nice":false,"zero":false},"axis":null}}},
{"transform":[{"filter":"datum.s=='T0'"}],"mark":{"type":"area","interpolate":"monotone"},"encoding":{"x":{"field":"c","type":"quantitative","scale":{"domain":[0,1024],"nice":false,"zero":false}},"y":{"field":"v","type":"quantitative","stack":null,"scale":{"domain":[-107.5,109.5],"nice":false,"zero":false},"axis":null},"y2":{"datum":0},"color":{"field":"s","type":"nominal","scale":{"domain":["T0","Vehicle","Dex"],"range":["#c2c2c2","#7f7f7f","#0a0a0a"]}}}}]}
],"resolve":{"scale":{"y":"independent"}}},

{"width":126,"height":126,"title":{"text":"IL-12+IL-15","dx":-6,"offset":-13},"data":{"name":"E"},"layer":[
{"layer":[{"transform":[{"filter":"datum.s=='Dex'"}],"mark":{"type":"area","interpolate":"monotone"},"encoding":{"x":{"field":"c","type":"quantitative","scale":{"domain":[0,1024],"nice":false,"zero":false},"axis":{"title":"CFSE","values":[86,206,420,711,935],"tickCount":5,"labelExpr":"datum.value == 86 ? '-10³' : datum.value == 206 ? '0' : datum.value == 420 ? '10³' : datum.value == 711 ? '10⁴' : '10⁵'","domain":false,"tickSize":3,"tickColor":"#666666","labelFontSize":8.5,"labelFontWeight":"bold","labelPadding":8,"labelBaseline":"top","labelFlush":false,"labelOverlap":false,"labelSeparation":-40,"titleFont":"Open Sans","titleFontSize":14,"titleFontWeight":"bold","titleX":55,"titleY":39,"titleBaseline":"middle","titleAlign":"center"}},"y":{"field":"v","type":"quantitative","stack":null,"scale":{"domain":[0,217],"nice":false,"zero":false},"axis":{"orient":"left","title":"Max (%)","domain":false,"ticks":false,"labels":false,"titleFontSize":14,"titleFontWeight":"bold","titleX":-28,"titleY":73,"titleAngle":-90,"titleAlign":"center","titleBaseline":"middle"}},"y2":{"datum":0},"color":{"field":"s","type":"nominal","scale":{"domain":["T0","Vehicle","Dex"],"range":["#c2c2c2","#7f7f7f","#0a0a0a"]}}}},
{"data":{"values":[{}]},"mark":{"type":"rule","color":"#1a1a1a","strokeWidth":1.3},"encoding":{"x":{"datum":-114,"type":"quantitative","scale":{"domain":[0,1024],"nice":false,"zero":false}},"y":{"datum":-43,"type":"quantitative","scale":{"domain":[0,217],"nice":false,"zero":false}},"y2":{"datum":212}}},
{"data":{"values":[{}]},"mark":{"type":"rule","color":"#1a1a1a","strokeWidth":1.3},"encoding":{"x":{"datum":-114,"type":"quantitative","scale":{"domain":[0,1024],"nice":false,"zero":false}},"x2":{"datum":985},"y":{"datum":-43,"type":"quantitative","scale":{"domain":[0,217],"nice":false,"zero":false}}}},
{"data":{"values":[{}]},"mark":{"type":"point","shape":"M0,-1L0.75,1L-0.75,1Z","size":81,"filled":true,"color":"#1a1a1a","opacity":1,"strokeWidth":0},"encoding":{"x":{"datum":-114,"type":"quantitative","scale":{"domain":[0,1024],"nice":false,"zero":false}},"y":{"datum":214,"type":"quantitative","scale":{"domain":[0,217],"nice":false,"zero":false}}}},
{"data":{"values":[{}]},"mark":{"type":"point","shape":"M1,0L-1,-0.75L-1,0.75Z","size":81,"filled":true,"color":"#1a1a1a","opacity":1,"strokeWidth":0},"encoding":{"x":{"datum":979,"type":"quantitative","scale":{"domain":[0,1024],"nice":false,"zero":false}},"y":{"datum":-43,"type":"quantitative","scale":{"domain":[0,217],"nice":false,"zero":false}}}},
{"data":{"values":[{}]},"mark":{"type":"text","text":"E","align":"left","baseline":"middle","fontSize":10,"fontWeight":"bold","color":"#231f20"},"encoding":{"x":{"datum":-271,"type":"quantitative","scale":{"domain":[0,1024],"nice":false,"zero":false}},"y":{"datum":256,"type":"quantitative","scale":{"domain":[0,217],"nice":false,"zero":false}}}}]},
{"layer":[{"data":{"values":[{}]},"mark":{"type":"rule","color":"#cccccc","strokeWidth":1},"encoding":{"y":{"datum":0,"type":"quantitative","scale":{"domain":[-53,164],"nice":false,"zero":false},"axis":null}}},
{"transform":[{"filter":"datum.s=='Vehicle'"}],"mark":{"type":"area","interpolate":"monotone"},"encoding":{"x":{"field":"c","type":"quantitative","scale":{"domain":[0,1024],"nice":false,"zero":false}},"y":{"field":"v","type":"quantitative","stack":null,"scale":{"domain":[-53,164],"nice":false,"zero":false},"axis":null},"y2":{"datum":0},"color":{"field":"s","type":"nominal","scale":{"domain":["T0","Vehicle","Dex"],"range":["#c2c2c2","#7f7f7f","#0a0a0a"]}}}}]},
{"layer":[{"data":{"values":[{}]},"mark":{"type":"rule","color":"#cccccc","strokeWidth":1},"encoding":{"y":{"datum":0,"type":"quantitative","scale":{"domain":[-107.5,109.5],"nice":false,"zero":false},"axis":null}}},
{"transform":[{"filter":"datum.s=='T0'"}],"mark":{"type":"area","interpolate":"monotone"},"encoding":{"x":{"field":"c","type":"quantitative","scale":{"domain":[0,1024],"nice":false,"zero":false}},"y":{"field":"v","type":"quantitative","stack":null,"scale":{"domain":[-107.5,109.5],"nice":false,"zero":false},"axis":null},"y2":{"datum":0},"color":{"field":"s","type":"nominal","scale":{"domain":["T0","Vehicle","Dex"],"range":["#c2c2c2","#7f7f7f","#0a0a0a"]}}}}]}
],"resolve":{"scale":{"y":"independent"}}},

{"width":126,"height":126,"title":{"text":"IL-12+IL-18","dx":-6,"offset":-13},"data":{"name":"F"},"layer":[
{"layer":[{"transform":[{"filter":"datum.s=='Dex'"}],"mark":{"type":"area","interpolate":"monotone"},"encoding":{"x":{"field":"c","type":"quantitative","scale":{"domain":[0,1024],"nice":false,"zero":false},"axis":{"title":"CFSE","values":[86,206,420,711,935],"tickCount":5,"labelExpr":"datum.value == 86 ? '-10³' : datum.value == 206 ? '0' : datum.value == 420 ? '10³' : datum.value == 711 ? '10⁴' : '10⁵'","domain":false,"tickSize":3,"tickColor":"#666666","labelFontSize":8.5,"labelFontWeight":"bold","labelPadding":8,"labelBaseline":"top","labelFlush":false,"labelOverlap":false,"labelSeparation":-40,"titleFont":"Open Sans","titleFontSize":14,"titleFontWeight":"bold","titleX":55,"titleY":39,"titleBaseline":"middle","titleAlign":"center"}},"y":{"field":"v","type":"quantitative","stack":null,"scale":{"domain":[0,217],"nice":false,"zero":false},"axis":{"orient":"left","title":"Max (%)","domain":false,"ticks":false,"labels":false,"titleFontSize":14,"titleFontWeight":"bold","titleX":-28,"titleY":73,"titleAngle":-90,"titleAlign":"center","titleBaseline":"middle"}},"y2":{"datum":0},"color":{"field":"s","type":"nominal","scale":{"domain":["T0","Vehicle","Dex"],"range":["#c2c2c2","#7f7f7f","#0a0a0a"]}}}},
{"data":{"values":[{}]},"mark":{"type":"rule","color":"#1a1a1a","strokeWidth":1.3},"encoding":{"x":{"datum":-114,"type":"quantitative","scale":{"domain":[0,1024],"nice":false,"zero":false}},"y":{"datum":-43,"type":"quantitative","scale":{"domain":[0,217],"nice":false,"zero":false}},"y2":{"datum":212}}},
{"data":{"values":[{}]},"mark":{"type":"rule","color":"#1a1a1a","strokeWidth":1.3},"encoding":{"x":{"datum":-114,"type":"quantitative","scale":{"domain":[0,1024],"nice":false,"zero":false}},"x2":{"datum":985},"y":{"datum":-43,"type":"quantitative","scale":{"domain":[0,217],"nice":false,"zero":false}}}},
{"data":{"values":[{}]},"mark":{"type":"point","shape":"M0,-1L0.75,1L-0.75,1Z","size":81,"filled":true,"color":"#1a1a1a","opacity":1,"strokeWidth":0},"encoding":{"x":{"datum":-114,"type":"quantitative","scale":{"domain":[0,1024],"nice":false,"zero":false}},"y":{"datum":214,"type":"quantitative","scale":{"domain":[0,217],"nice":false,"zero":false}}}},
{"data":{"values":[{}]},"mark":{"type":"point","shape":"M1,0L-1,-0.75L-1,0.75Z","size":81,"filled":true,"color":"#1a1a1a","opacity":1,"strokeWidth":0},"encoding":{"x":{"datum":979,"type":"quantitative","scale":{"domain":[0,1024],"nice":false,"zero":false}},"y":{"datum":-43,"type":"quantitative","scale":{"domain":[0,217],"nice":false,"zero":false}}}},
{"data":{"values":[{}]},"mark":{"type":"text","text":"F","align":"left","baseline":"middle","fontSize":10,"fontWeight":"bold","color":"#231f20"},"encoding":{"x":{"datum":-271,"type":"quantitative","scale":{"domain":[0,1024],"nice":false,"zero":false}},"y":{"datum":256,"type":"quantitative","scale":{"domain":[0,217],"nice":false,"zero":false}}}}]},
{"layer":[{"data":{"values":[{}]},"mark":{"type":"rule","color":"#cccccc","strokeWidth":1},"encoding":{"y":{"datum":0,"type":"quantitative","scale":{"domain":[-53,164],"nice":false,"zero":false},"axis":null}}},
{"transform":[{"filter":"datum.s=='Vehicle'"}],"mark":{"type":"area","interpolate":"monotone"},"encoding":{"x":{"field":"c","type":"quantitative","scale":{"domain":[0,1024],"nice":false,"zero":false}},"y":{"field":"v","type":"quantitative","stack":null,"scale":{"domain":[-53,164],"nice":false,"zero":false},"axis":null},"y2":{"datum":0},"color":{"field":"s","type":"nominal","scale":{"domain":["T0","Vehicle","Dex"],"range":["#c2c2c2","#7f7f7f","#0a0a0a"]}}}}]},
{"layer":[{"data":{"values":[{}]},"mark":{"type":"rule","color":"#cccccc","strokeWidth":1},"encoding":{"y":{"datum":0,"type":"quantitative","scale":{"domain":[-107.5,109.5],"nice":false,"zero":false},"axis":null}}},
{"transform":[{"filter":"datum.s=='T0'"}],"mark":{"type":"area","interpolate":"monotone"},"encoding":{"x":{"field":"c","type":"quantitative","scale":{"domain":[0,1024],"nice":false,"zero":false}},"y":{"field":"v","type":"quantitative","stack":null,"scale":{"domain":[-107.5,109.5],"nice":false,"zero":false},"axis":null},"y2":{"datum":0},"color":{"field":"s","type":"nominal","scale":{"domain":["T0","Vehicle","Dex"],"range":["#c2c2c2","#7f7f7f","#0a0a0a"]}}}}]}
],"resolve":{"scale":{"y":"independent"}}},

{"width":126,"height":126,"title":{"text":"IL-12+IL-15+IL-18","dx":-6,"offset":-13},"data":{"name":"G"},"layer":[
{"layer":[{"transform":[{"filter":"datum.s=='Dex'"}],"mark":{"type":"area","interpolate":"monotone"},"encoding":{"x":{"field":"c","type":"quantitative","scale":{"domain":[0,1024],"nice":false,"zero":false},"axis":{"title":"CFSE","values":[86,206,420,711,935],"tickCount":5,"labelExpr":"datum.value == 86 ? '-10³' : datum.value == 206 ? '0' : datum.value == 420 ? '10³' : datum.value == 711 ? '10⁴' : '10⁵'","domain":false,"tickSize":3,"tickColor":"#666666","labelFontSize":8.5,"labelFontWeight":"bold","labelPadding":8,"labelBaseline":"top","labelFlush":false,"labelOverlap":false,"labelSeparation":-40,"titleFont":"Open Sans","titleFontSize":14,"titleFontWeight":"bold","titleX":55,"titleY":39,"titleBaseline":"middle","titleAlign":"center"}},"y":{"field":"v","type":"quantitative","stack":null,"scale":{"domain":[0,217],"nice":false,"zero":false},"axis":{"orient":"left","title":"Max (%)","domain":false,"ticks":false,"labels":false,"titleFontSize":14,"titleFontWeight":"bold","titleX":-28,"titleY":73,"titleAngle":-90,"titleAlign":"center","titleBaseline":"middle"}},"y2":{"datum":0},"color":{"field":"s","type":"nominal","scale":{"domain":["T0","Vehicle","Dex"],"range":["#c2c2c2","#7f7f7f","#0a0a0a"]}}}},
{"data":{"values":[{}]},"mark":{"type":"rule","color":"#1a1a1a","strokeWidth":1.3},"encoding":{"x":{"datum":-114,"type":"quantitative","scale":{"domain":[0,1024],"nice":false,"zero":false}},"y":{"datum":-43,"type":"quantitative","scale":{"domain":[0,217],"nice":false,"zero":false}},"y2":{"datum":212}}},
{"data":{"values":[{}]},"mark":{"type":"rule","color":"#1a1a1a","strokeWidth":1.3},"encoding":{"x":{"datum":-114,"type":"quantitative","scale":{"domain":[0,1024],"nice":false,"zero":false}},"x2":{"datum":985},"y":{"datum":-43,"type":"quantitative","scale":{"domain":[0,217],"nice":false,"zero":false}}}},
{"data":{"values":[{}]},"mark":{"type":"point","shape":"M0,-1L0.75,1L-0.75,1Z","size":81,"filled":true,"color":"#1a1a1a","opacity":1,"strokeWidth":0},"encoding":{"x":{"datum":-114,"type":"quantitative","scale":{"domain":[0,1024],"nice":false,"zero":false}},"y":{"datum":214,"type":"quantitative","scale":{"domain":[0,217],"nice":false,"zero":false}}}},
{"data":{"values":[{}]},"mark":{"type":"point","shape":"M1,0L-1,-0.75L-1,0.75Z","size":81,"filled":true,"color":"#1a1a1a","opacity":1,"strokeWidth":0},"encoding":{"x":{"datum":979,"type":"quantitative","scale":{"domain":[0,1024],"nice":false,"zero":false}},"y":{"datum":-43,"type":"quantitative","scale":{"domain":[0,217],"nice":false,"zero":false}}}},
{"data":{"values":[{}]},"mark":{"type":"text","text":"G","align":"left","baseline":"middle","fontSize":10,"fontWeight":"bold","color":"#231f20"},"encoding":{"x":{"datum":-271,"type":"quantitative","scale":{"domain":[0,1024],"nice":false,"zero":false}},"y":{"datum":256,"type":"quantitative","scale":{"domain":[0,217],"nice":false,"zero":false}}}}]},
{"layer":[{"data":{"values":[{}]},"mark":{"type":"rule","color":"#cccccc","strokeWidth":1},"encoding":{"y":{"datum":0,"type":"quantitative","scale":{"domain":[-53,164],"nice":false,"zero":false},"axis":null}}},
{"transform":[{"filter":"datum.s=='Vehicle'"}],"mark":{"type":"area","interpolate":"monotone"},"encoding":{"x":{"field":"c","type":"quantitative","scale":{"domain":[0,1024],"nice":false,"zero":false}},"y":{"field":"v","type":"quantitative","stack":null,"scale":{"domain":[-53,164],"nice":false,"zero":false},"axis":null},"y2":{"datum":0},"color":{"field":"s","type":"nominal","scale":{"domain":["T0","Vehicle","Dex"],"range":["#c2c2c2","#7f7f7f","#0a0a0a"]}}}}]},
{"layer":[{"data":{"values":[{}]},"mark":{"type":"rule","color":"#cccccc","strokeWidth":1},"encoding":{"y":{"datum":0,"type":"quantitative","scale":{"domain":[-107.5,109.5],"nice":false,"zero":false},"axis":null}}},
{"transform":[{"filter":"datum.s=='T0'"}],"mark":{"type":"area","interpolate":"monotone"},"encoding":{"x":{"field":"c","type":"quantitative","scale":{"domain":[0,1024],"nice":false,"zero":false}},"y":{"field":"v","type":"quantitative","stack":null,"scale":{"domain":[-107.5,109.5],"nice":false,"zero":false},"axis":null},"y2":{"datum":0},"color":{"field":"s","type":"nominal","scale":{"domain":["T0","Vehicle","Dex"],"range":["#c2c2c2","#7f7f7f","#0a0a0a"]}}}}]}
],"resolve":{"scale":{"y":"independent"}}},

{"width":126,"height":126,"title":{"text":"IL-2+IL-12","dx":-6,"offset":-13},"data":{"name":"H"},"layer":[
{"layer":[{"transform":[{"filter":"datum.s=='Dex'"}],"mark":{"type":"area","interpolate":"monotone"},"encoding":{"x":{"field":"c","type":"quantitative","scale":{"domain":[0,1024],"nice":false,"zero":false},"axis":{"title":"CFSE","values":[86,206,420,711,935],"tickCount":5,"labelExpr":"datum.value == 86 ? '-10³' : datum.value == 206 ? '0' : datum.value == 420 ? '10³' : datum.value == 711 ? '10⁴' : '10⁵'","domain":false,"tickSize":3,"tickColor":"#666666","labelFontSize":8.5,"labelFontWeight":"bold","labelPadding":8,"labelBaseline":"top","labelFlush":false,"labelOverlap":false,"labelSeparation":-40,"titleFont":"Open Sans","titleFontSize":14,"titleFontWeight":"bold","titleX":55,"titleY":39,"titleBaseline":"middle","titleAlign":"center"}},"y":{"field":"v","type":"quantitative","stack":null,"scale":{"domain":[0,217],"nice":false,"zero":false},"axis":{"orient":"left","title":"Max (%)","domain":false,"ticks":false,"labels":false,"titleFontSize":14,"titleFontWeight":"bold","titleX":-28,"titleY":73,"titleAngle":-90,"titleAlign":"center","titleBaseline":"middle"}},"y2":{"datum":0},"color":{"field":"s","type":"nominal","scale":{"domain":["T0","Vehicle","Dex"],"range":["#c2c2c2","#7f7f7f","#0a0a0a"]}}}},
{"data":{"values":[{}]},"mark":{"type":"rule","color":"#1a1a1a","strokeWidth":1.3},"encoding":{"x":{"datum":-114,"type":"quantitative","scale":{"domain":[0,1024],"nice":false,"zero":false}},"y":{"datum":-43,"type":"quantitative","scale":{"domain":[0,217],"nice":false,"zero":false}},"y2":{"datum":212}}},
{"data":{"values":[{}]},"mark":{"type":"rule","color":"#1a1a1a","strokeWidth":1.3},"encoding":{"x":{"datum":-114,"type":"quantitative","scale":{"domain":[0,1024],"nice":false,"zero":false}},"x2":{"datum":985},"y":{"datum":-43,"type":"quantitative","scale":{"domain":[0,217],"nice":false,"zero":false}}}},
{"data":{"values":[{}]},"mark":{"type":"point","shape":"M0,-1L0.75,1L-0.75,1Z","size":81,"filled":true,"color":"#1a1a1a","opacity":1,"strokeWidth":0},"encoding":{"x":{"datum":-114,"type":"quantitative","scale":{"domain":[0,1024],"nice":false,"zero":false}},"y":{"datum":214,"type":"quantitative","scale":{"domain":[0,217],"nice":false,"zero":false}}}},
{"data":{"values":[{}]},"mark":{"type":"point","shape":"M1,0L-1,-0.75L-1,0.75Z","size":81,"filled":true,"color":"#1a1a1a","opacity":1,"strokeWidth":0},"encoding":{"x":{"datum":979,"type":"quantitative","scale":{"domain":[0,1024],"nice":false,"zero":false}},"y":{"datum":-43,"type":"quantitative","scale":{"domain":[0,217],"nice":false,"zero":false}}}},
{"data":{"values":[{}]},"mark":{"type":"text","text":"H","align":"left","baseline":"middle","fontSize":10,"fontWeight":"bold","color":"#231f20"},"encoding":{"x":{"datum":-271,"type":"quantitative","scale":{"domain":[0,1024],"nice":false,"zero":false}},"y":{"datum":256,"type":"quantitative","scale":{"domain":[0,217],"nice":false,"zero":false}}}}]},
{"layer":[{"data":{"values":[{}]},"mark":{"type":"rule","color":"#cccccc","strokeWidth":1},"encoding":{"y":{"datum":0,"type":"quantitative","scale":{"domain":[-53,164],"nice":false,"zero":false},"axis":null}}},
{"transform":[{"filter":"datum.s=='Vehicle'"}],"mark":{"type":"area","interpolate":"monotone"},"encoding":{"x":{"field":"c","type":"quantitative","scale":{"domain":[0,1024],"nice":false,"zero":false}},"y":{"field":"v","type":"quantitative","stack":null,"scale":{"domain":[-53,164],"nice":false,"zero":false},"axis":null},"y2":{"datum":0},"color":{"field":"s","type":"nominal","scale":{"domain":["T0","Vehicle","Dex"],"range":["#c2c2c2","#7f7f7f","#0a0a0a"]}}}}]},
{"layer":[{"data":{"values":[{}]},"mark":{"type":"rule","color":"#cccccc","strokeWidth":1},"encoding":{"y":{"datum":0,"type":"quantitative","scale":{"domain":[-107.5,109.5],"nice":false,"zero":false},"axis":null}}},
{"transform":[{"filter":"datum.s=='T0'"}],"mark":{"type":"area","interpolate":"monotone"},"encoding":{"x":{"field":"c","type":"quantitative","scale":{"domain":[0,1024],"nice":false,"zero":false}},"y":{"field":"v","type":"quantitative","stack":null,"scale":{"domain":[-107.5,109.5],"nice":false,"zero":false},"axis":null},"y2":{"datum":0},"color":{"field":"s","type":"nominal","scale":{"domain":["T0","Vehicle","Dex"],"range":["#c2c2c2","#7f7f7f","#0a0a0a"]}}}}]}
],"resolve":{"scale":{"y":"independent"}}}
], "columns": 4, "spacing": {"row": 21, "column": 16}},

{"hconcat": [
{"width": 32, "height": 10, "view": {"stroke": null}, "data": {"values": []}, "mark": "point"},
{"width": 546, "height": 174, "view": {"stroke": null},
 "title": {"text": "I", "anchor": "start", "frame": "bounds", "font": "Liberation Sans", "fontSize": 9, "fontWeight": "bold", "dx": 5, "offset": -4},
 "layer": [
  {"data": {"name": "bars"}, "mark": {"type": "bar"},
   "encoding": {"x": {"field": "c", "type": "nominal", "scale": {"domain": ["IL-12","IL-18","IL-2","IL-15","IL-12+IL-15","IL-12+IL-18","IL-12+IL-15+IL-18","IL-2+IL-12"], "paddingInner": 0, "paddingOuter": 0},
      "axis": {"title": null, "domainColor": "#111111", "domainWidth": 2, "tickColor": "#111111", "tickWidth": 2, "tickSize": 5, "labelAngle": -45, "labelAlign": "right", "labelBaseline": "middle", "labelFontSize": 12.5, "labelFontWeight": "bold", "labelColor": "#111111", "labelPadding": 3, "labelLineHeight": 15, "labelOverlap": false, "labelExpr": "datum.value == 'IL-12+IL-15+IL-18' ? ['IL-12+IL-15', '+IL-18\u00a0\u00a0\u00a0\u00a0'] : datum.value"}},
    "xOffset": {"field": "s", "type": "nominal", "scale": {"domain": ["Vehicle","Dex"], "paddingInner": 0.346, "paddingOuter": 0.486}},
    "y": {"field": "m", "type": "quantitative", "stack": null, "scale": {"domain": [0, 8], "nice": false},
      "axis": {"values": [0,2,4,6,8], "tickCount": 5, "title": ["CFSE Normalised gMFI", "(IL-12 Vehicle/Sample)"], "domainColor": "#111111", "domainWidth": 2, "tickColor": "#111111", "tickWidth": 2, "tickSize": 5, "labelFontSize": 13, "labelFontWeight": "bold", "labelColor": "#111111", "labelPadding": 2, "titleFontSize": 13, "titleFontWeight": "bold", "titleColor": "#111111", "titleLineHeight": 18, "titlePadding": 2}},
    "color": {"field": "s", "type": "nominal", "scale": {"domain": ["Vehicle","Dex"], "range": ["#858585","#0a0a0a"]},
      "legend": {"orient": "none", "legendX": 93, "legendY": -2, "title": null, "direction": "vertical", "symbolType": "M-1,-0.5L1,-0.5L1,0.5L-1,0.5Z", "symbolSize": 361, "symbolStrokeWidth": 0, "labelFontSize": 14, "labelFontWeight": "bold", "labelColor": "#111111", "labelOffset": 10, "rowPadding": 10, "padding": 0}}}},
  {"data": {"name": "bars"}, "mark": {"type": "rule", "strokeWidth": 2},
   "encoding": {"x": {"field": "c", "type": "nominal", "scale": {"domain": ["IL-12","IL-18","IL-2","IL-15","IL-12+IL-15","IL-12+IL-18","IL-12+IL-15+IL-18","IL-2+IL-12"], "paddingInner": 0, "paddingOuter": 0}},
    "xOffset": {"field": "s", "type": "nominal", "scale": {"domain": ["Vehicle","Dex"], "paddingInner": 0.346, "paddingOuter": 0.486}},
    "y": {"field": "m", "type": "quantitative", "scale": {"domain": [0, 8], "nice": false}},
    "y2": {"field": "hi"},
    "color": {"field": "s", "type": "nominal", "scale": {"domain": ["Vehicle","Dex"], "range": ["#858585","#0a0a0a"]}}}},
  {"data": {"name": "bars"}, "mark": {"type": "tick", "thickness": 2, "size": 8, "opacity": 1},
   "encoding": {"x": {"field": "c", "type": "nominal", "scale": {"domain": ["IL-12","IL-18","IL-2","IL-15","IL-12+IL-15","IL-12+IL-18","IL-12+IL-15+IL-18","IL-2+IL-12"], "paddingInner": 0, "paddingOuter": 0}},
    "xOffset": {"field": "s", "type": "nominal", "scale": {"domain": ["Vehicle","Dex"], "paddingInner": 0.346, "paddingOuter": 0.486}},
    "y": {"field": "hi", "type": "quantitative", "scale": {"domain": [0, 8], "nice": false}},
    "color": {"field": "s", "type": "nominal", "scale": {"domain": ["Vehicle","Dex"], "range": ["#858585","#0a0a0a"]}}}},
  {"data": {"name": "br"}, "mark": {"type": "rule", "strokeWidth": 2.5, "color": "#111111"},
   "encoding": {"x": {"field": "c", "type": "nominal", "scale": {"domain": ["IL-12","IL-18","IL-2","IL-15","IL-12+IL-15","IL-12+IL-18","IL-12+IL-15+IL-18","IL-2+IL-12"], "paddingInner": 0, "paddingOuter": 0}},
    "xOffset": {"datum": "Vehicle", "type": "nominal"},
    "y": {"field": "b", "type": "quantitative", "scale": {"domain": [0, 8], "nice": false}},
    "y2": {"field": "t"}}},
  {"data": {"name": "br"}, "mark": {"type": "rule", "strokeWidth": 2.5, "color": "#111111"},
   "encoding": {"x": {"field": "c", "type": "nominal", "scale": {"domain": ["IL-12","IL-18","IL-2","IL-15","IL-12+IL-15","IL-12+IL-18","IL-12+IL-15+IL-18","IL-2+IL-12"], "paddingInner": 0, "paddingOuter": 0}},
    "xOffset": {"datum": "Dex", "type": "nominal"},
    "y": {"field": "b", "type": "quantitative", "scale": {"domain": [0, 8], "nice": false}},
    "y2": {"field": "t"}}},
  {"data": {"name": "br"}, "mark": {"type": "tick", "thickness": 2.5, "size": 28.5, "color": "#111111", "opacity": 1},
   "encoding": {"x": {"field": "c", "type": "nominal", "scale": {"domain": ["IL-12","IL-18","IL-2","IL-15","IL-12+IL-15","IL-12+IL-18","IL-12+IL-15+IL-18","IL-2+IL-12"], "paddingInner": 0, "paddingOuter": 0}},
    "y": {"field": "t", "type": "quantitative", "scale": {"domain": [0, 8], "nice": false}}}},
  {"data": {"name": "br"}, "transform": [{"filter": "datum.lab != 'ns'"}], "mark": {"type": "text", "fontSize": 24, "fontWeight": "bold", "baseline": "alphabetic", "dy": 6, "color": "#111111"},
   "encoding": {"x": {"field": "c", "type": "nominal", "scale": {"domain": ["IL-12","IL-18","IL-2","IL-15","IL-12+IL-15","IL-12+IL-18","IL-12+IL-15+IL-18","IL-2+IL-12"], "paddingInner": 0, "paddingOuter": 0}},
    "y": {"field": "t", "type": "quantitative", "scale": {"domain": [0, 8], "nice": false}},
    "text": {"field": "lab"}}},
  {"data": {"name": "br"}, "transform": [{"filter": "datum.lab == 'ns'"}], "mark": {"type": "text", "fontSize": 16, "fontWeight": "bold", "baseline": "alphabetic", "dy": -3, "color": "#111111"},
   "encoding": {"x": {"field": "c", "type": "nominal", "scale": {"domain": ["IL-12","IL-18","IL-2","IL-15","IL-12+IL-15","IL-12+IL-18","IL-12+IL-15+IL-18","IL-2+IL-12"], "paddingInner": 0, "paddingOuter": 0}},
    "y": {"field": "t", "type": "quantitative", "scale": {"domain": [0, 8], "nice": false}},
    "text": {"field": "lab"}}}
 ]}
], "spacing": 0}
],
"spacing": 20,
"resolve": {"scale": {"color": "independent"}, "legend": {"color": "independent"}},
"config": {
 "font": "Liberation Sans",
 "view": {"stroke": "#a0a0a0", "strokeWidth": 1},
 "axis": {"grid": false, "labelColor": "#231f20", "titleColor": "#231f20", "labelOverlap": false},
 "title": {"font": "Open Sans", "fontSize": 14, "fontWeight": "bold", "color": "#231f20"},
 "legend": {"symbolOpacity": 1}
}
}
